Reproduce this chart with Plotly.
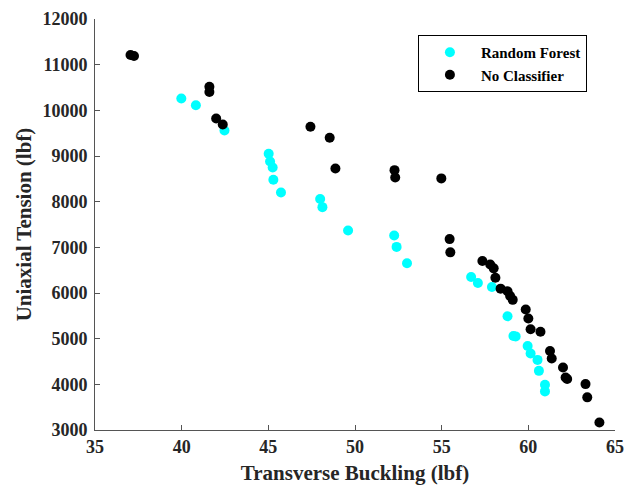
import plotly.graph_objects as go

rf_x = [39.98, 40.82, 42.47, 45.02, 45.10, 45.25, 45.29, 45.73, 47.99, 48.12, 49.60,
        52.26, 52.40, 53.00, 56.70, 57.09, 57.90, 58.80, 59.14, 59.27, 59.96, 60.13,
        60.53, 60.61, 60.96, 60.96]
rf_y = [10260, 10110, 9560, 9050, 8880, 8750, 8480, 8200, 8060, 7880, 7370,
        7260, 7010, 6650, 6350, 6220, 6130, 5490, 5060, 5050, 4840, 4675,
        4535, 4295, 3990, 3845]

nc_x = [37.05, 37.25, 41.60, 41.60, 41.99, 42.37, 47.43, 48.54, 48.87, 52.28, 52.32,
        54.98, 55.46, 55.50, 57.35, 57.80, 58.00, 58.10, 58.40, 58.80, 58.95, 59.10,
        59.85, 60.00, 60.13, 60.70, 61.25, 61.35, 62.00, 62.15, 62.24, 63.30, 63.40, 64.10]
nc_y = [11210, 11190, 10515, 10400, 9820, 9690, 9640, 9400, 8725, 8690, 8530,
        8510, 7180, 6890, 6700, 6625, 6540, 6335, 6095, 6040, 5935, 5850,
        5640, 5440, 5205, 5150, 4730, 4565, 4370, 4150, 4115, 4005, 3715, 3165]

x_ticks = [35, 40, 45, 50, 55, 60, 65]
y_ticks = [3000, 4000, 5000, 6000, 7000, 8000, 9000, 10000, 11000, 12000]

FONT = "Liberation Serif"
DARK = "#262626"

fig = go.Figure()
fig.add_trace(go.Scatter(x=rf_x, y=rf_y, mode="markers", name="<b>Random Forest</b>",
                         marker=dict(color="#00FFFF", size=10, line=dict(width=0))))
fig.add_trace(go.Scatter(x=nc_x, y=nc_y, mode="markers", name="<b>No Classifier</b>",
                         marker=dict(color="black", size=10, line=dict(width=0))))

axis_common = dict(showgrid=False, zeroline=False, showline=True, linecolor="#555555",
                   linewidth=1, ticks="inside", ticklen=5, tickcolor="#555555",
                   automargin=False,
                   tickfont=dict(family=FONT, size=18, color=DARK))

fig.update_xaxes(range=[35, 65], tickvals=x_ticks,
                 ticktext=[f"<b>{v}</b>" for v in x_ticks],
                 title=dict(text="<b>Transverse Buckling (lbf)</b>",
                            font=dict(family=FONT, size=21, color=DARK), standoff=9),
                 **axis_common)
fig.update_yaxes(range=[3000, 12000], tickvals=y_ticks, ticklabelstandoff=3,
                 ticktext=[f"<b>{v}</b>" for v in y_ticks],
                 title=dict(text="<b>Uniaxial Tension (lbf)</b>",
                            font=dict(family=FONT, size=21, color=DARK), standoff=5),
                 **axis_common)

fig.update_layout(
    width=626, height=487, autosize=False,
    margin=dict(l=95, r=11, t=19, b=57),
    plot_bgcolor="white", paper_bgcolor="white",
    font=dict(family=FONT, color="black"),
    legend=dict(x=0.621, y=0.961, xanchor="left", yanchor="top",
                bordercolor="black", borderwidth=1, bgcolor="white",
                font=dict(family=FONT, size=15, color="black"),
                itemwidth=52, entrywidth=134, tracegroupgap=0),
)

fig.write_html(
    "out.html",
    config={"displayModeBar": False},
    post_script="document.body.style.margin='0';document.body.style.overflow='hidden';",
)
